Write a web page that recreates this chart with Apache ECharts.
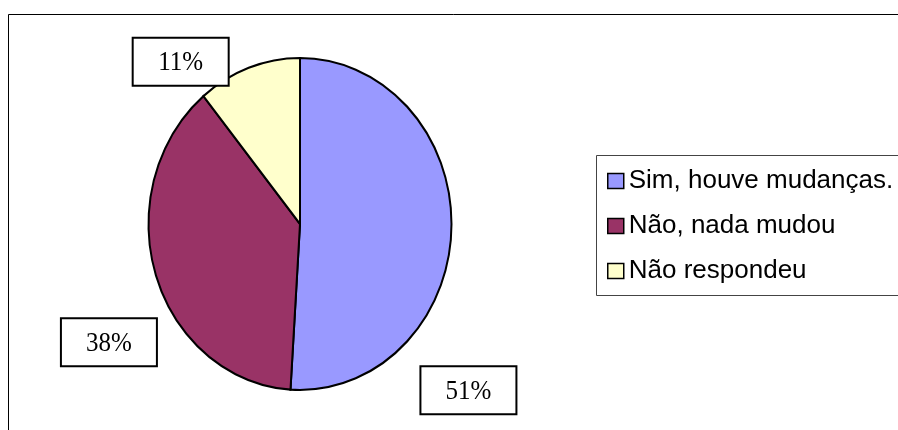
<!DOCTYPE html>
<html>
<head>
<meta charset="utf-8">
<script src="https://cdn.jsdelivr.net/npm/echarts@6/dist/echarts.min.js"></script>
<style>
  html, body { margin: 0; padding: 0; background: #fff; }
  #chart { width: 898px; height: 430px; }
</style>
</head>
<body>
<div id="chart"></div>
<script>
// Data
const categories = ['Sim, houve mudanças.', 'Não, nada mudou', 'Não respondeu'];
const shares = [51, 38, 11];
const sliceColors = ['#9999FF', '#993366', '#FFFFCC'];

const total = shares.reduce((s, v) => s + v, 0);

// Pie layout (the original pie is a slightly tall ellipse)
const pieCenter = [300, 224];
const radiusX = 151.5;
const radiusY = 166;
// Where each label box sits, relative to the rim point at the slice's middle
const labelShift = [[17, 161], [-47, 67], [-68, -6]];

function makeSlice(i) {
    const before = shares.slice(0, i).reduce((s, v) => s + v, 0);
    return {
        name: categories[i],
        type: 'custom',
        coordinateSystem: 'none',
        itemStyle: { color: sliceColors[i], borderColor: '#000', borderWidth: 1.5 },
        silent: true,
        data: [shares[i]],
        renderItem: function (params, api) {
            const value = api.value(0);
            const start = -Math.PI / 2 + before / total * Math.PI * 2;
            const end = start + value / total * Math.PI * 2;
            const mid = (start + end) / 2;
            const rimX = pieCenter[0] + radiusX * Math.cos(mid);
            const rimY = pieCenter[1] + radiusY * Math.sin(mid);
            const bx = rimX + labelShift[i][0];
            const by = rimY + labelShift[i][1];
            const pct = Math.round(value / total * 100) + '%';
            return {
                type: 'group',
                children: [
                    {
                        type: 'sector',
                        x: pieCenter[0],
                        y: pieCenter[1],
                        scaleY: radiusY / radiusX,
                        shape: { cx: 0, cy: 0, r: radiusX, r0: 0, startAngle: start, endAngle: end, clockwise: true },
                        style: { fill: sliceColors[i], stroke: '#000', lineWidth: 2, strokeNoScale: true }
                    },
                    {
                        type: 'rect',
                        shape: { x: bx - 48, y: by - 24, width: 96, height: 48 },
                        style: { fill: '#fff', stroke: '#000', lineWidth: 2 }
                    },
                    {
                        type: 'text',
                        x: bx,
                        y: by + 1,
                        scaleY: 1.12,
                        style: {
                            text: pct,
                            x: 0,
                            y: 0,
                            align: 'center',
                            verticalAlign: 'middle',
                            fill: '#000',
                            font: '25px "Liberation Serif", "Times New Roman", serif'
                        }
                    }
                ]
            };
        }
    };
}

const chart = echarts.init(document.getElementById('chart'));

const option = {
    backgroundColor: '#fff',
    animation: false,
    graphic: [
        {
            type: 'rect',
            shape: { x: 8.5, y: 14.5, width: 1000, height: 1000 },
            style: { fill: 'none', stroke: '#000', lineWidth: 1 },
            silent: true
        },
        {
            type: 'rect',
            shape: { x: 596.5, y: 155.5, width: 400, height: 140 },
            style: { fill: '#fff', stroke: '#444', lineWidth: 1 },
            silent: true
        }
    ],
    legend: {
        orient: 'vertical',
        left: 607,
        top: 166,
        padding: 0,
        itemGap: 15,
        itemWidth: 16,
        itemHeight: 15,
        icon: 'rect',
        selectedMode: false,
        data: categories,
        itemStyle: { borderColor: '#000', borderWidth: 1.5 },
        textStyle: {
            color: '#000',
            fontSize: 26,
            lineHeight: 30,
            fontFamily: '"Liberation Sans", Arial, sans-serif'
        }
    },
    series: categories.map((c, i) => makeSlice(i))
};

chart.setOption(option);
window.addEventListener('resize', () => chart.resize());
</script>
</body>
</html>
